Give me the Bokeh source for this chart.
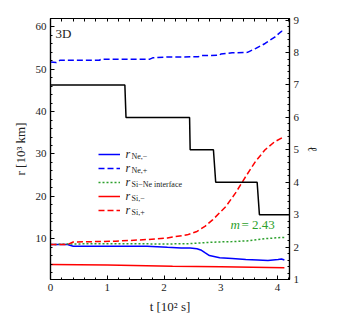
from bokeh.plotting import figure
from bokeh.models import Range1d, LinearAxis, SingleIntervalTicker, FixedTicker, Legend, LegendItem, Label
from bokeh.embed import file_html
from bokeh.resources import INLINE

# ---- data (t in 10^2 s, r in 10^3 km) ----
t_ne_minus = [0, 0.3, 0.4, 1.0, 1.7, 2.06, 2.3, 2.46, 2.58, 2.66, 2.72, 2.8, 2.98, 3.2, 3.44, 3.65, 3.83, 4.01, 4.07, 4.12]
r_ne_minus = [8.6, 8.6, 8.2, 8.2, 8.2, 7.95, 7.8, 7.8, 7.6, 7.25, 6.7, 6.0, 5.5, 5.3, 5.05, 4.95, 4.85, 5.05, 5.2, 4.95]

t_ne_plus = [0, 0.1, 0.17, 0.86, 0.9, 1.75, 1.8, 2.06, 2.6, 2.65, 2.97, 3.0, 3.2, 3.47, 3.61, 3.78, 3.95, 4.07, 4.12]
r_ne_plus = [51.7, 51.6, 52.15, 52.15, 52.4, 52.4, 52.7, 52.9, 52.95, 53.25, 53.3, 53.6, 53.9, 54.0, 54.9, 56.1, 57.6, 59.0, 58.8]

t_si_ne = [0, 0.37, 1.0, 2.06, 2.41, 2.92, 3.2, 3.49, 3.78, 4.09, 4.12]
r_si_ne = [8.6, 8.75, 8.8, 8.75, 8.8, 9.2, 9.3, 9.5, 10.0, 10.3, 10.3]

t_si_minus = [0, 1.0, 2.15, 3.0, 4.12]
r_si_minus = [3.9, 3.75, 3.5, 3.35, 3.1]

t_si_plus = [0, 0.3, 0.4, 1.15, 1.72, 2.06, 2.15, 2.41, 2.58, 2.72, 2.86, 3.09, 3.26, 3.44, 3.61, 3.78, 3.95, 4.12]
r_si_plus = [8.6, 8.6, 9.2, 9.4, 9.8, 10.15, 10.4, 10.9, 11.7, 12.9, 14.5, 17.6, 20.8, 24.7, 28.2, 31.0, 32.9, 34.1]

t_ell = [0, 1.31, 1.33, 2.45, 2.46, 2.87, 2.91, 3.64, 3.68, 4.21]
ell = [7, 7, 6, 6, 5, 5, 4, 4, 3, 3]

legend_subs = ["Ne,\u2212", "Ne,+", "Si\u2212Ne interface", "Si,\u2212", "Si,+"]
mass_label = "2.43"

BLUE = "#0000ff"
RED = "#ff0000"
GREEN = "#2ca02c"
SERIF = "Liberation Serif"
TXT = "#222222"

p = figure(width=323, height=316, output_backend="svg", toolbar_location=None,
           x_range=Range1d(0, 4.21), y_range=Range1d(0.35, 62.0),
           min_border_left=50, min_border_right=28, min_border_top=18, min_border_bottom=36,
           x_axis_label="t [10\u00b2 s]", y_axis_label="r [10\u00b3 km]")
p.extra_y_ranges = {"ell": Range1d(1, 9.05)}
p.xgrid.visible = False
p.ygrid.visible = False
p.outline_line_color = "black"
p.outline_line_width = 1.2
p.background_fill_color = "white"
p.border_fill_color = "white"

p.xaxis.ticker = SingleIntervalTicker(interval=1, num_minor_ticks=5)
p.yaxis.ticker = SingleIntervalTicker(interval=10, num_minor_ticks=5)

right = LinearAxis(y_range_name="ell", ticker=SingleIntervalTicker(interval=1, num_minor_ticks=5),
                   axis_label="\u2113")
p.add_layout(right, "right")

# top axis: ticks only (no labels)
top_minor = [i * 0.2 for i in range(22)]
top = LinearAxis(ticker=FixedTicker(ticks=[], minor_ticks=top_minor))
p.add_layout(top, "above")

for ax in p.axis:
    ax.major_tick_in = 4
    ax.major_tick_out = 0
    ax.minor_tick_in = 2
    ax.minor_tick_out = 0
    ax.major_tick_line_color = "black"
    ax.minor_tick_line_color = "black"
    ax.axis_line_color = "black"
    ax.axis_line_width = 1.2
    ax.major_label_text_font = SERIF
    ax.major_label_text_font_size = "11px"
    ax.major_label_text_color = TXT
    ax.axis_label_text_font = SERIF
    ax.axis_label_text_font_style = "normal"
    ax.axis_label_text_font_size = "13px"
    ax.axis_label_text_color = TXT
    ax.axis_label_standoff = 5
    ax.major_label_standoff = 4
p.xaxis[0].major_label_standoff = 3
p.xaxis[0].axis_label_standoff = 8
right.axis_label_standoff = 3
top.minor_tick_in = 3

r1 = p.line(t_ne_minus, r_ne_minus, line_color=BLUE, line_width=1.5)
r2 = p.line(t_ne_plus, r_ne_plus, line_color=BLUE, line_width=1.5, line_dash="6 3")
r3 = p.line(t_si_ne, r_si_ne, line_color=GREEN, line_width=1.5, line_dash="2 2")
r4 = p.line(t_si_minus, r_si_minus, line_color=RED, line_width=1.5)
r5 = p.line(t_si_plus, r_si_plus, line_color=RED, line_width=1.5, line_dash="6 3")
p.line(t_ell, ell, line_color="black", line_width=1.5, y_range_name="ell")

items = [LegendItem(label=" ", renderers=[r]) for r in (r1, r2, r3, r4, r5)]
legend = Legend(items=items, location=(48, 62), glyph_width=22, glyph_height=14,
                label_height=14, spacing=0, padding=0, margin=0,
                border_line_alpha=0, background_fill_alpha=0,
                label_text_font_size="1px", label_standoff=0, label_width=0)
p.add_layout(legend)

row_y = [125, 111, 97, 83, 69]
for y, sub in zip(row_y, legend_subs):
    p.add_layout(Label(x=75, y=y + 1, x_units="screen", y_units="screen", text="r",
                       text_font=SERIF, text_font_style="italic", text_font_size="12px",
                       text_baseline="middle", text_color=TXT))
    p.add_layout(Label(x=81, y=y - 2, x_units="screen", y_units="screen", text=sub,
                       text_font=SERIF, text_font_size="8px",
                       text_baseline="middle", text_color=TXT))

p.add_layout(Label(x=5, y=246, x_units="screen", y_units="screen", text="3D",
                   text_font=SERIF, text_font_size="13px", text_baseline="middle",
                   text_color=TXT))
p.add_layout(Label(x=180, y=55, x_units="screen", y_units="screen", text="m",
                   text_font=SERIF, text_font_style="italic", text_font_size="13px",
                   text_baseline="middle", text_color=GREEN))
p.add_layout(Label(x=191, y=55, x_units="screen", y_units="screen", text="= " + mass_label,
                   text_font=SERIF, text_font_size="13px",
                   text_baseline="middle", text_color=GREEN))

open("out.html", "w").write(file_html(p, INLINE))
